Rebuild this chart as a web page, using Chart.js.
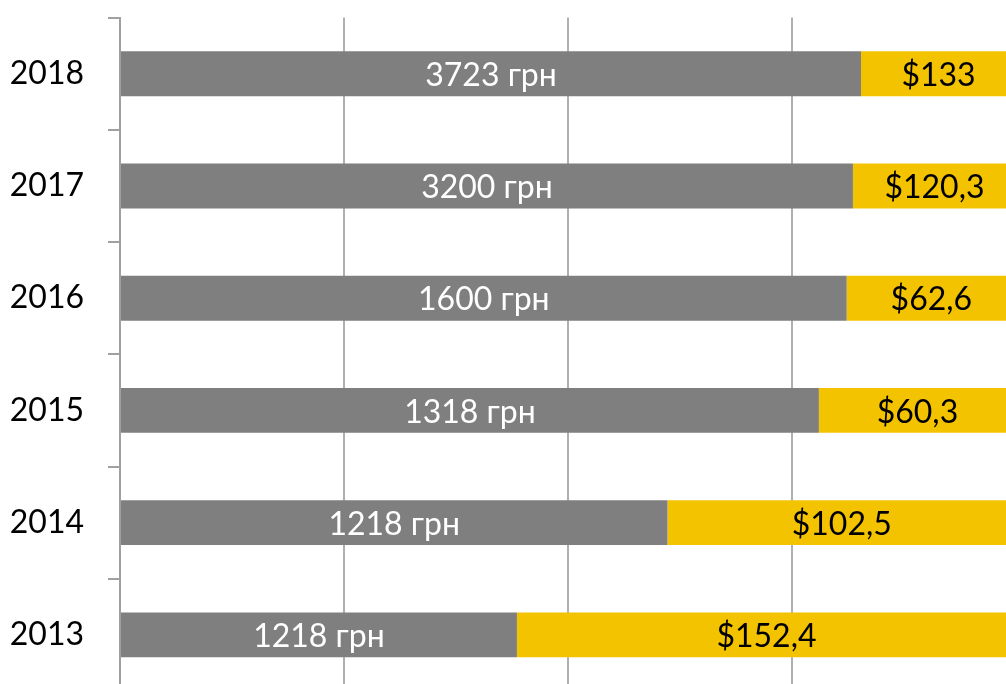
<!DOCTYPE html>
<html>
<head>
<meta charset="utf-8">
<script src="https://cdn.jsdelivr.net/npm/chart.js@4/dist/chart.umd.min.js"></script>
<style>
html,body{margin:0;padding:0;background:#fff;overflow:hidden;width:1006px;height:684px;}
#wrap{position:absolute;left:0;top:0;width:1016px;height:691px;}
</style>
</head>
<body>
<div id="wrap"><canvas id="c" width="1016" height="691"></canvas></div>
<script>
const years = ["2018", "2017", "2016", "2015", "2014", "2013"];
const uahShare = [0.827, 0.818, 0.811, 0.780, 0.611, 0.443];
const usdShare = [0.173, 0.182, 0.189, 0.220, 0.389, 0.557];
const uahLabels = ["3723 грн", "3200 грн", "1600 грн", "1318 грн", "1218 грн", "1218 грн"];
const usdLabels = ["$133", "$120,3", "$62,6", "$60,3", "$102,5", "$152,4"];
const xTicks = [0, 0.25, 0.5, 0.75, 1];

const FONT = "Lato, 'Open Sans', sans-serif";

const barLabels = {
  id: 'barLabels',
  afterDatasetsDraw(chart) {
    const ctx = chart.ctx;
    ctx.save();
    ctx.font = "32px " + FONT;
    ctx.textAlign = 'center';
    ctx.textBaseline = 'middle';
    chart.data.datasets.forEach((ds, di) => {
      const meta = chart.getDatasetMeta(di);
      meta.data.forEach((el, i) => {
        const p = el.getProps(['x', 'y', 'base'], true);
        ctx.fillStyle = ds.labelColor;
        ctx.fillText(ds.valueLabels[i], (p.x + p.base) / 2, p.y + 2);
      });
    });
    ctx.restore();
  }
};

new Chart(document.getElementById('c'), {
  type: 'bar',
  data: {
    labels: years,
    datasets: [
      { data: uahShare, backgroundColor: '#7f7f7f', valueLabels: uahLabels, labelColor: '#ffffff',
        categoryPercentage: 1, barPercentage: 0.4 },
      { data: usdShare, backgroundColor: '#f4c300', valueLabels: usdLabels, labelColor: '#000000',
        categoryPercentage: 1, barPercentage: 0.4 }
    ]
  },
  options: {
    indexAxis: 'y',
    responsive: false,
    animation: false,
    layout: { padding: { top: 17.6, left: 0, right: 0, bottom: 0 } },
    plugins: { legend: { display: false }, tooltip: { enabled: false } },
    scales: {
      x: {
        stacked: true,
        min: 0, max: 1,
        afterBuildTicks: s => { s.ticks = xTicks.map(v => ({ value: v })); },
        ticks: { display: false },
        border: { display: false },
        grid: { color: '#b0b0b0', lineWidth: 2, drawTicks: false },
        afterFit: s => { s.height = 0; s.paddingLeft = 0; s.paddingRight = 0; }
      },
      y: {
        stacked: true,
        ticks: { color: '#000', font: { family: FONT, size: 32 }, padding: 24 },
        border: { display: true, color: '#a0a0a0', width: 2 },
        grid: { drawOnChartArea: false, tickLength: 12, color: '#a0a0a0', lineWidth: 2 },
        afterFit: s => { s.width = 120; s.paddingTop = 0; s.paddingBottom = 0; }
      }
    }
  },
  plugins: [barLabels]
});
</script>
</body>
</html>
